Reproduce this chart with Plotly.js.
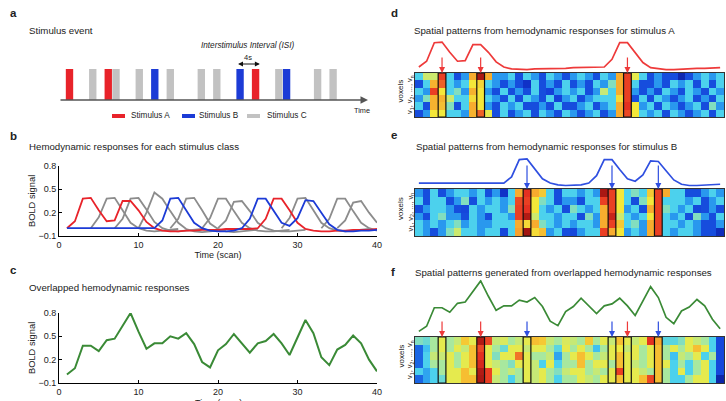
<!DOCTYPE html>
<html>
<head>
<meta charset="utf-8">
<script src="https://cdn.plot.ly/plotly-3.0.1.min.js"></script>
<style>
  html, body { margin: 0; padding: 0; background: #fff; }
  #fig { width: 726px; height: 401px; }
</style>
</head>
<body>
<div id="fig"></div>
<script>
// ---- data -------------------------------------------------------------
const scans = [1,2,3,4,5,6,7,8,9,10,11,12,13,14,15,16,17,18,19,20,
               21,22,23,24,25,26,27,28,29,30,31,32,33,34,35,36,37,38,39,40];

// stimulus onsets (scan)
const onsetA = [1, 6, 25];
const onsetB = [12, 23, 29];
const onsetC = [4, 7, 10, 14, 18, 20, 28, 33, 35];
const stimHeight = 1;

// scans where each class response peaks (highlighted columns)
const peakA = [4, 9, 28];
const peakB = [15, 26, 32];

// hemodynamic response, stimulus A
const hrfA = [0, 0.09, 0.38, 0.39, 0.23, 0.09, 0.10, 0.35, 0.35, 0.23,
              0.08, 0.0, -0.03, -0.04, -0.04, -0.03, -0.03, -0.02, -0.02, -0.02,
              -0.01, -0.01, -0.01, -0.01, 0.0, 0.12, 0.38, 0.38, 0.23, 0.07,
              -0.01, -0.03, -0.04, -0.04, -0.03, -0.03, -0.02, -0.02, -0.02, -0.01];

// hemodynamic response, stimulus B
const hrfB = [0, 0, 0, 0, 0, 0, 0, 0, 0, 0,
              0, 0.0, 0.10, 0.38, 0.39, 0.23, 0.07, 0.0, -0.03, -0.04,
              -0.04, -0.03, 0.0, 0.12, 0.38, 0.38, 0.22, 0.07, 0.03, 0.13,
              0.36, 0.35, 0.20, 0.05, -0.02, -0.04, -0.04, -0.03, -0.03, -0.02];

// hemodynamic responses, stimulus C (one per event, starting at its onset)
const hrfC = [
  [0, 0.14, 0.38, 0.39, 0.23, 0.07, 0, -0.03, -0.04, -0.03, -0.02, -0.01],
  [0, 0.12, 0.38, 0.39, 0.24, 0.08, 0, -0.03, -0.04, -0.03, -0.02, -0.01],
  [0, 0.20, 0.46, 0.38, 0.22, 0.07, -0.01, -0.04, -0.05, -0.04, -0.03, -0.02],
  [0, 0.12, 0.38, 0.39, 0.23, 0.06, -0.01, -0.04, -0.05, -0.04, -0.03, -0.02],
  [0, 0.13, 0.38, 0.38, 0.22, 0.07, 0, -0.03, -0.04, -0.04, -0.03, -0.02],
  [0, 0.10, 0.34, 0.35, 0.22, 0.07, 0, -0.03, -0.04, -0.04, -0.03, -0.02],
  [0, 0.13, 0.38, 0.39, 0.23, 0.07, 0, -0.03, -0.04, -0.03, -0.02, -0.01],
  [0, 0.12, 0.38, 0.38, 0.22, 0.07, 0, -0.03],
  [0, 0.10, 0.33, 0.35, 0.20, 0.07]
];

// overlapped response
const hrfSum = [0.01, 0.09, 0.38, 0.38, 0.31, 0.45, 0.47, 0.64, 0.80, 0.56,
                0.34, 0.41, 0.41, 0.50, 0.47, 0.54, 0.40, 0.17, 0.10, 0.32,
                0.40, 0.53, 0.41, 0.29, 0.41, 0.44, 0.53, 0.41, 0.26, 0.48,
                0.71, 0.54, 0.23, 0.13, 0.33, 0.39, 0.51, 0.41, 0.20, 0.05];

// voxel patterns (rows v_n ... v_1, columns = scans)
const patternA = [
  [0.38,0.56,0.56,0.86,0.38,0.16,0.28,0.73,0.96,0.73,0.28,0.28,0.38,0.16,0.38,0.28,0.16,0.38,0.28,0.16,0.28,0.38,0.28,0.16,0.38,0.28,0.73,0.86,0.60,0.38,0.16,0.28,0.16,0.16,0.06,0.16,0.28,0.38,0.28,0.38],
  [0.16,0.38,0.72,0.82,0.38,0.28,0.38,0.63,0.66,0.38,0.28,0.16,0.28,0.16,0.10,0.38,0.16,0.28,0.16,0.38,0.16,0.28,0.16,0.38,0.28,0.45,0.73,0.86,0.38,0.16,0.16,0.28,0.16,0.38,0.28,0.38,0.16,0.38,0.16,0.38],
  [0.38,0.28,0.86,0.63,0.38,0.45,0.28,0.72,0.63,0.28,0.16,0.38,0.16,0.28,0.16,0.38,0.16,0.14,0.28,0.38,0.28,0.38,0.16,0.28,0.55,0.38,0.73,0.86,0.28,0.16,0.28,0.16,0.38,0.28,0.16,0.38,0.28,0.16,0.38,0.28],
  [0.28,0.45,0.72,0.72,0.56,0.38,0.38,0.65,0.63,0.38,0.28,0.16,0.38,0.16,0.38,0.28,0.16,0.38,0.14,0.28,0.38,0.16,0.28,0.38,0.38,0.38,0.65,0.86,0.16,0.38,0.16,0.38,0.28,0.16,0.28,0.38,0.16,0.28,0.16,0.38],
  [0.38,0.16,0.72,0.70,0.45,0.16,0.38,0.73,0.63,0.28,0.16,0.38,0.28,0.38,0.16,0.16,0.28,0.16,0.38,0.16,0.16,0.28,0.38,0.16,0.28,0.38,0.73,0.88,0.63,0.28,0.38,0.16,0.38,0.28,0.16,0.28,0.38,0.16,0.45,0.28],
  [0.16,0.28,0.63,0.62,0.38,0.38,0.28,0.72,0.82,0.60,0.16,0.38,0.16,0.28,0.38,0.16,0.38,0.28,0.16,0.38,0.28,0.16,0.28,0.38,0.16,0.28,0.73,0.85,0.63,0.38,0.28,0.38,0.16,0.38,0.28,0.16,0.28,0.38,0.16,0.38]
];
const patternB = [
  [0.28,0.16,0.38,0.16,0.28,0.38,0.38,0.28,0.38,0.16,0.28,0.10,0.38,0.73,0.88,0.73,0.68,0.38,0.16,0.38,0.38,0.28,0.38,0.28,0.96,0.86,0.63,0.38,0.45,0.38,0.68,0.86,0.73,0.38,0.38,0.16,0.16,0.28,0.38,0.28],
  [0.38,0.16,0.38,0.38,0.16,0.28,0.45,0.16,0.38,0.28,0.38,0.28,0.38,0.85,0.86,0.63,0.45,0.38,0.16,0.28,0.28,0.16,0.38,0.38,0.86,0.86,0.63,0.38,0.16,0.45,0.63,0.86,0.38,0.38,0.38,0.28,0.38,0.16,0.28,0.38],
  [0.16,0.28,0.38,0.38,0.28,0.16,0.15,0.38,0.28,0.38,0.38,0.28,0.45,0.86,0.88,0.63,0.38,0.28,0.38,0.16,0.45,0.38,0.28,0.38,0.73,0.86,0.63,0.28,0.38,0.16,0.73,0.86,0.45,0.38,0.28,0.38,0.15,0.16,0.28,0.16],
  [0.28,0.16,0.38,0.45,0.28,0.28,0.16,0.38,0.28,0.16,0.38,0.38,0.28,0.86,0.95,0.56,0.38,0.38,0.28,0.38,0.38,0.16,0.45,0.28,0.73,0.92,0.56,0.38,0.28,0.38,0.63,0.86,0.38,0.28,0.38,0.16,0.45,0.28,0.16,0.38],
  [0.38,0.28,0.38,0.28,0.38,0.45,0.28,0.38,0.28,0.28,0.38,0.38,0.38,0.73,0.65,0.73,0.45,0.38,0.28,0.38,0.28,0.38,0.38,0.28,0.73,0.86,0.68,0.38,0.45,0.28,0.73,0.86,0.38,0.38,0.28,0.38,0.28,0.16,0.16,0.28],
  [0.38,0.28,0.16,0.28,0.45,0.56,0.38,0.38,0.28,0.38,0.38,0.15,0.38,0.75,0.97,0.65,0.70,0.28,0.38,0.16,0.15,0.28,0.38,0.38,0.86,0.73,0.63,0.28,0.38,0.28,0.73,0.86,0.38,0.28,0.38,0.38,0.28,0.16,0.16,0.08]
];
const patternSum = [
  [0.45,0.42,0.50,0.60,0.50,0.55,0.68,0.60,0.95,0.85,0.55,0.58,0.50,0.55,0.60,0.70,0.68,0.55,0.50,0.58,0.55,0.50,0.68,0.50,0.60,0.55,0.70,0.60,0.55,0.60,0.88,0.74,0.40,0.40,0.45,0.60,0.55,0.50,0.38,0.15],
  [0.20,0.35,0.50,0.60,0.50,0.60,0.55,0.70,0.85,0.60,0.50,0.42,0.60,0.60,0.55,0.60,0.60,0.50,0.40,0.60,0.50,0.60,0.50,0.35,0.50,0.60,0.62,0.55,0.60,0.50,0.60,0.70,0.50,0.60,0.50,0.60,0.70,0.60,0.38,0.15],
  [0.20,0.38,0.55,0.55,0.60,0.50,0.60,0.70,0.88,0.60,0.45,0.60,0.60,0.80,0.60,0.50,0.50,0.55,0.30,0.50,0.60,0.70,0.60,0.50,0.55,0.60,0.70,0.60,0.60,0.50,0.60,0.70,0.50,0.35,0.55,0.50,0.60,0.38,0.50,0.15],
  [0.20,0.38,0.50,0.50,0.60,0.50,0.60,0.70,0.90,0.60,0.55,0.50,0.45,0.60,0.60,0.55,0.38,0.60,0.38,0.50,0.50,0.70,0.50,0.60,0.60,0.50,0.70,0.60,0.55,0.50,0.60,0.70,0.60,0.38,0.50,0.38,0.50,0.60,0.38,0.15],
  [0.38,0.30,0.38,0.50,0.60,0.60,0.70,0.60,0.95,0.86,0.60,0.50,0.55,0.50,0.60,0.55,0.60,0.50,0.45,0.55,0.60,0.60,0.50,0.55,0.50,0.60,0.86,0.60,0.60,0.55,0.50,0.70,0.50,0.38,0.60,0.38,0.50,0.60,0.38,0.15],
  [0.20,0.30,0.38,0.42,0.60,0.60,0.70,0.70,0.96,0.86,0.55,0.50,0.38,0.50,0.60,0.55,0.60,0.50,0.38,0.50,0.50,0.60,0.55,0.50,0.60,0.60,0.70,0.60,0.60,0.70,0.85,0.70,0.50,0.38,0.38,0.50,0.60,0.60,0.38,0.05]
];

const yTicks = [-0.1, 0.2, 0.5, 0.8];
const xTicks = [0, 10, 20, 30, 40];
const stimLabels = ['Stimulus A', 'Stimulus B', 'Stimulus C'];

// ---- styling ------------------------------------------------------------
const W = 726, H = 401;
const FONT = 'Liberation Sans, Arial, Helvetica, sans-serif';
const RED = '#e8232a', BLUE = '#1c3bd6', GRAY_BAR = '#c2c2c2', GRAY_LINE = '#8c8c8c';
const GREEN = '#3a8a36';
// softened jet
const jet = [[0, '#0a1a8c'], [0.125, '#1237d6'], [0.25, '#1f86ee'], [0.375, '#48d0f0'],
             [0.5, '#a8e89e'], [0.625, '#f4ea3a'], [0.75, '#f7a02c'], [0.875, '#e83222'],
             [1, '#8c0c0c']];

const xd = (a, b) => [a / W, b / W];
const yd = (top, bottom) => [1 - bottom / H, 1 - top / H];
const px = v => v / W;
const py = v => 1 - v / H;

// ---- traces -------------------------------------------------------------
const traces = [];

// a: stimulus events
[[onsetA, RED], [onsetB, BLUE], [onsetC, GRAY_BAR]].forEach(([on, col]) => {
  traces.push({type: 'bar', x: on, y: on.map(() => stimHeight), width: 0.95,
    marker: {color: col, line: {width: 0}}, xaxis: 'x3', yaxis: 'y3',
    showlegend: false, hoverinfo: 'skip'});
});

// b: responses per class
hrfC.forEach((resp, i) => {
  traces.push({type: 'scatter', mode: 'lines', x: resp.map((_, k) => onsetC[i] + k), y: resp,
    line: {color: GRAY_LINE, width: 1.8}, xaxis: 'x', yaxis: 'y', showlegend: false, hoverinfo: 'skip'});
});
traces.push({type: 'scatter', mode: 'lines', x: scans, y: hrfA,
  line: {color: RED, width: 1.8}, xaxis: 'x', yaxis: 'y', showlegend: false, hoverinfo: 'skip'});
traces.push({type: 'scatter', mode: 'lines', x: scans, y: hrfB,
  line: {color: BLUE, width: 1.8}, xaxis: 'x', yaxis: 'y', showlegend: false, hoverinfo: 'skip'});

// c: overlapped response
traces.push({type: 'scatter', mode: 'lines', x: scans, y: hrfSum,
  line: {color: GREEN, width: 2}, xaxis: 'x2', yaxis: 'y2', showlegend: false, hoverinfo: 'skip'});

// d, e, f: voxel patterns with their time courses above
const panels = [
  {z: patternA, curve: hrfA, color: '#ee3a3a', xa: 'x4', yh: 'y4', yc: 'y5'},
  {z: patternB, curve: hrfB, color: '#2f4fe0', xa: 'x5', yh: 'y6', yc: 'y7'},
  {z: patternSum, curve: hrfSum, color: GREEN, xa: 'x6', yh: 'y8', yc: 'y9'}
];
panels.forEach(p => {
  traces.push({type: 'heatmap', z: p.z, x: scans, colorscale: jet, zmin: 0, zmax: 1,
    showscale: false, xaxis: p.xa, yaxis: p.yh, hoverinfo: 'skip'});
  traces.push({type: 'scatter', mode: 'lines', x: scans, y: p.curve,
    line: {color: p.color, width: 1.7}, xaxis: p.xa, yaxis: p.yc, showlegend: false,
    hoverinfo: 'skip', cliponaxis: false});
});

// ---- layout ---------------------------------------------------------------
const lineAxis = (extra) => Object.assign({
  showline: true, linecolor: '#000', linewidth: 1, ticks: 'inside', ticklen: 3,
  tickcolor: '#000', showgrid: false, zeroline: false,
  tickfont: {family: FONT, size: 9, color: '#222'}
}, extra);

const heatX = (anchor) => ({domain: xd(415, 724), range: [0.5, 40.5], anchor,
  showline: true, mirror: true, linecolor: '#333', linewidth: 1, ticks: '',
  showticklabels: false, showgrid: false, zeroline: false});
const heatY = (top, bottom, anchor) => ({domain: yd(top, bottom), range: [5.5, -0.5], anchor,
  showline: true, mirror: true, linecolor: '#333', linewidth: 1, ticks: '',
  showticklabels: false, showgrid: false, zeroline: false});
const curveY = (top, bottom, range, anchor) => ({domain: yd(top, bottom), range, anchor,
  visible: false, showgrid: false, zeroline: false});

const layout = {
  width: W, height: H, margin: {l: 0, r: 0, t: 0, b: 0},
  paper_bgcolor: '#fff', plot_bgcolor: 'rgba(0,0,0,0)',
  font: {family: FONT, color: '#222'},
  showlegend: false,
  // b
  xaxis: lineAxis({domain: xd(59, 377), range: [0, 40], anchor: 'y', tickvals: xTicks,
    title: {text: 'Time (scan)', font: {family: FONT, size: 9}, standoff: 2}}),
  yaxis: lineAxis({domain: yd(166, 236), range: [-0.1, 0.8], anchor: 'x', tickvals: yTicks}),
  // c
  xaxis2: lineAxis({domain: xd(59, 377), range: [0, 40], anchor: 'y2', tickvals: xTicks}),
  yaxis2: lineAxis({domain: yd(313, 383), range: [-0.1, 0.8], anchor: 'x2', tickvals: yTicks}),
  // a (stimulus bars are 1 unit tall; headroom above holds the ISI marker)
  xaxis3: {domain: xd(59, 368), range: [-0.354, 39.5], anchor: 'y3', visible: false},
  yaxis3: {domain: yd(59.7, 100), range: [0, 1.3], anchor: 'x3', visible: false},
  // d
  xaxis4: heatX('y4'), yaxis4: heatY(73, 117, 'x4'), yaxis5: curveY(38.2, 73.4, [-0.1, 0.45], 'x4'),
  // e
  xaxis5: heatX('y6'), yaxis6: heatY(189, 236, 'x5'), yaxis7: curveY(155.3, 189.2, [-0.1, 0.45], 'x5'),
  // f
  xaxis6: heatX('y8'), yaxis8: heatY(337, 383, 'x6'), yaxis9: curveY(279.7, 337.1, [-0.08, 0.82], 'x6'),
  shapes: [],
  annotations: []
};

const ann = layout.annotations, shp = layout.shapes;
const txt = (x, y, text, size, extra) => Object.assign({
  xref: 'paper', yref: 'paper', x: px(x), y: py(y), text, showarrow: false,
  xanchor: 'left', yanchor: 'middle', font: {family: FONT, size, color: '#222'}
}, extra || {});

// panel letters and titles
ann.push(txt(8, 13, '<b>a</b>', 11.5));
ann.push(txt(27, 30, 'Stimulus event', 9.7));
ann.push(txt(8, 136, '<b>b</b>', 11.5));
ann.push(txt(27, 146, 'Hemodynamic responses for each stimulus class', 9.7));
ann.push(txt(8, 270, '<b>c</b>', 11.5));
ann.push(txt(27, 287, 'Overlapped hemodynamic responses', 9.7));
ann.push(txt(389, 13, '<b>d</b>', 11.5));
ann.push(txt(412, 30, 'Spatial patterns from hemodynamic responses for stimulus A', 9.7));
ann.push(txt(389, 135, '<b>e</b>', 11.5));
ann.push(txt(414, 147, 'Spatial patterns from hemodynamic responses for stimulus B', 9.7));
ann.push(txt(389, 272, '<b>f</b>', 11.5));
ann.push(txt(413, 272, 'Spatial patterns generated from overlapped hemodynamic responses', 9.7));

// axis titles placed beside the tick labels
ann.push(txt(32, 201, 'BOLD signal', 9.3, {xanchor: 'center', textangle: -90}));
ann.push(txt(32, 348, 'BOLD signal', 9.3, {xanchor: 'center', textangle: -90}));
ann.push(txt(218, 403, 'Time (scan)', 9, {xanchor: 'center'}));

// a: time axis arrow, ISI marker, legend
ann.push({xref: 'x3', yref: 'y3', axref: 'x3', ayref: 'y3', x: 39.5, y: 0, ax: -0.354, ay: 0,
  text: '', showarrow: true, arrowhead: 2, arrowsize: 1, arrowwidth: 1.5, arrowcolor: '#555'});
ann.push({xref: 'x3', yref: 'y3', axref: 'x3', ayref: 'y3',
  x: onsetA[2] + 0.55, y: 1.16, ax: onsetB[1] - 0.45, ay: 1.16,
  text: '', showarrow: true, arrowhead: 2, arrowside: 'end+start', arrowsize: 0.9,
  arrowwidth: 1.1, arrowcolor: '#111'});
ann.push({xref: 'x3', yref: 'paper', x: (onsetB[1] + onsetA[2]) / 2, y: py(58), text: '4s',
  showarrow: false, xanchor: 'center', yanchor: 'middle', font: {family: FONT, size: 7.5, color: '#222'}});
ann.push({xref: 'x3', yref: 'paper', x: (onsetB[1] + onsetA[2]) / 2, y: py(46),
  text: '<i>Interstimulus Interval (ISI)</i>', showarrow: false, xanchor: 'center', yanchor: 'middle',
  font: {family: FONT, size: 8.2, color: '#222'}});
ann.push(txt(352, 110, 'Time', 7.3));

[[112, 129, RED], [182, 197, BLUE], [247, 265, GRAY_BAR]].forEach(([x0, tx, col], i) => {
  shp.push({type: 'line', xref: 'paper', yref: 'paper', x0: px(x0), x1: px(x0 + 13),
    y0: py(116), y1: py(116), line: {color: col, width: 4}});
  ann.push(txt(tx, 116, stimLabels[i], 8.2));
});

// d, e, f: voxel labels, highlighted columns and arrows
const heatRows = [[73, 117], [189, 236], [337, 383]];
heatRows.forEach(([top, bottom]) => {
  const mid = (top + bottom) / 2;
  ann.push({xref: 'paper', yref: 'paper', x: px(400.5), y: py(mid - 4), text: 'voxels',
    textangle: -90, showarrow: false, xanchor: 'center', yanchor: 'middle',
    font: {family: FONT, size: 8, color: '#222'}});
  ann.push({xref: 'paper', yref: 'paper', x: px(410), y: py(mid), text: 'v<sub>1</sub>, v<sub>2</sub>, ..., v<sub>n</sub>',
    textangle: -90, showarrow: false, xanchor: 'center', yanchor: 'middle',
    font: {family: FONT, size: 7.5, color: '#222'}});
});

function boxes(xref, yref, times) {
  times.forEach(t => shp.push({type: 'rect', xref, yref, x0: t - 0.5, x1: t + 0.5, y0: -0.5, y1: 5.5,
    line: {color: '#111', width: 1.2}, fillcolor: 'rgba(0,0,0,0)'}));
}
function arrows(xref, yref, times, color, len) {
  times.forEach(t => ann.push({xref, yref, x: t, y: -0.5, ax: 0, ay: -len, text: '',
    showarrow: true, arrowhead: 2, arrowsize: 1, arrowwidth: 1.2, arrowcolor: color, standoff: 0}));
}
boxes('x4', 'y4', peakA); arrows('x4', 'y4', peakA, '#ee3a3a', 17);
boxes('x5', 'y6', peakB); arrows('x5', 'y6', peakB, '#2f4fe0', 25);
boxes('x6', 'y8', peakA.concat(peakB));
arrows('x6', 'y8', peakA, '#ee3a3a', 17);
arrows('x6', 'y8', peakB, '#2f4fe0', 17);

Plotly.newPlot('fig', traces, layout, {staticPlot: true, displayModeBar: false});
</script>
</body>
</html>
